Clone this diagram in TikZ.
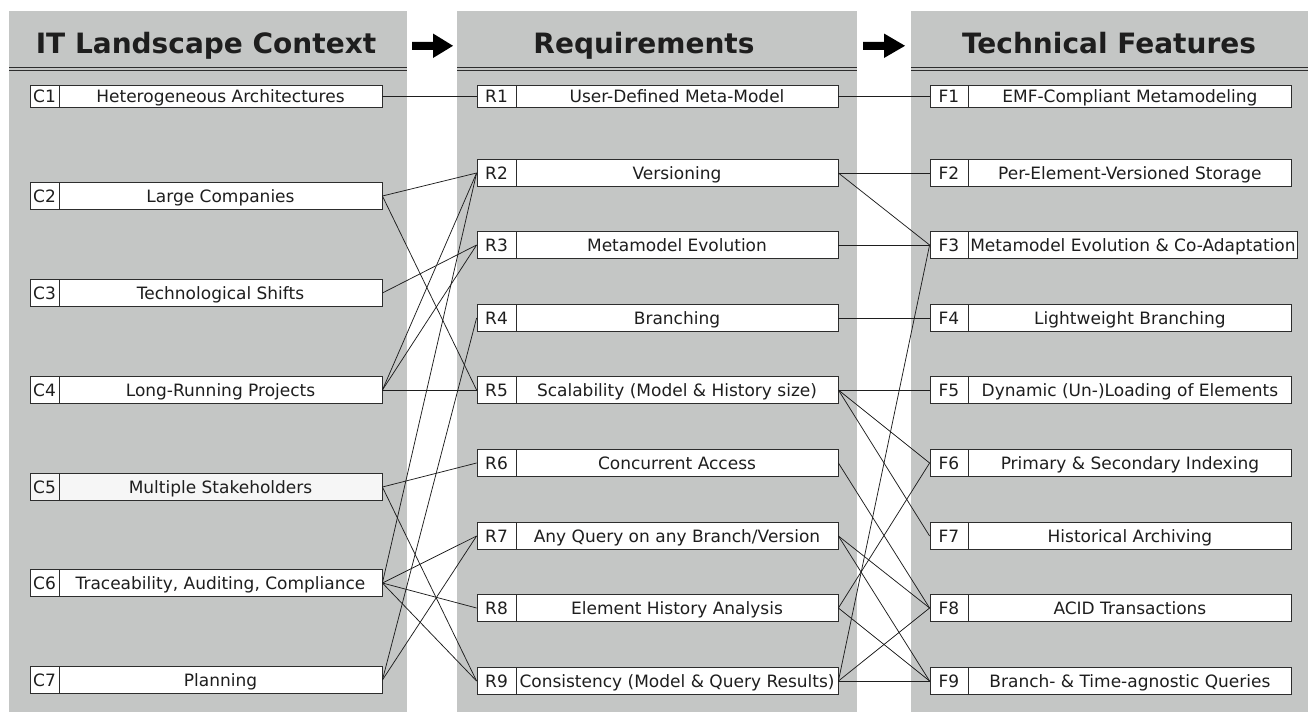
\documentclass[tikz,border=0pt]{standalone}
\usepackage{fontspec}
\setmainfont{DejaVu Sans}
\definecolor{panelgray}{RGB}{196,198,197}
\definecolor{boxline}{RGB}{45,45,45}
\definecolor{txt}{RGB}{30,30,30}
\definecolor{conncol}{RGB}{30,30,30}
\definecolor{offwhite}{RGB}{246,246,246}
\newcommand\lblfont{\fontsize{17}{17}\selectfont}
\newcommand\hdrfont{\fontsize{28}{28}\selectfont\bfseries}
\tikzset{
  cell/.style={draw=boxline,fill=white,line width=0.8pt,inner sep=0pt,font=\lblfont,text=txt,text height=12.4pt,text depth=0pt},
  conn/.style={draw=conncol,line width=0.75pt},
  hdr/.style={font=\hdrfont,text=txt,inner sep=0pt,text height=20.4pt,text depth=0pt},
  hdrline/.style={draw=boxline,line width=0.8pt},
  bigarrow/.style={fill=black}
}
% Cbox[extra style]{name}{y}{height}{id}{text}
\newcommand\Cbox[6][]{%
  \node[cell,minimum width=29pt,minimum height=#4pt,#1] (#2id) at (44.5,#3) {#5};
  \node[cell,minimum width=323pt,minimum height=#4pt,#1] (#2) at (220.5,#3) {#6};}
\newcommand\Rbox[5]{%
  \node[cell,minimum width=39pt,minimum height=#3pt] (#1id) at (496.5,#2) {#4};
  \node[cell,minimum width=322pt,minimum height=#3pt] (#1) at (677,#2) {#5};}
\newcommand\Fbox[6][323]{%
  \node[cell,minimum width=38pt,minimum height=#4pt] (#2id) at (949,#3) {#5};
  \node[cell,minimum width=#1pt,minimum height=#4pt,anchor=west] (#2) at (968,#3) {#6};}
\begin{document}
\begin{tikzpicture}[x=1pt,y=-1pt]
\useasboundingbox (0,0) rectangle (1308,712);
% panels
\fill[panelgray] (9,11) rectangle (407,712);
\fill[panelgray] (457,11) rectangle (857,712);
\fill[panelgray] (911,11) rectangle (1308,712);
% header double lines
\foreach \yy in {67,70}{
  \draw[hdrline] (9,\yy) -- (407,\yy);
  \draw[hdrline] (457,\yy) -- (857,\yy);
  \draw[hdrline] (911,\yy) -- (1308,\yy);
}
% headers
\node[hdr] (h1) at (206,43) {IT Landscape Context};
\node[hdr] (h2) at (644,43) {Requirements};
\node[hdr] (h3) at (1109,43) {Technical Features};
% big arrows
\fill[bigarrow] (412,41.8) -- (433,41.8) -- (433,33.5) -- (453,45.8) -- (433,58) -- (433,49.8) -- (412,49.8) -- cycle;
\fill[bigarrow] (863,41.8) -- (884,41.8) -- (884,33.5) -- (905,45.8) -- (884,58) -- (884,49.8) -- (863,49.8) -- cycle;
% C column
\Cbox{c1}{96}{22}{C1}{Heterogeneous Architectures}
\Cbox{c2}{196}{27}{C2}{Large Companies}
\Cbox{c3}{293}{27}{C3}{Technological Shifts}
\Cbox{c4}{390}{27}{C4}{Long-Running Projects}
\Cbox[fill=offwhite]{c5}{487}{27}{C5}{Multiple Stakeholders}
\Cbox{c6}{583}{27}{C6}{Traceability, Auditing, Compliance}
\Cbox{c7}{680}{27}{C7}{Planning}
% R column
\Rbox{r1}{96}{22}{R1}{User-Defined Meta-Model}
\Rbox{r2}{173}{27}{R2}{Versioning}
\Rbox{r3}{245}{27}{R3}{Metamodel Evolution}
\Rbox{r4}{318}{27}{R4}{Branching}
\Rbox{r5}{390}{27}{R5}{Scalability (Model \& History size)}
\Rbox{r6}{463}{27}{R6}{Concurrent Access}
\Rbox{r7}{536}{27}{R7}{Any Query on any Branch/Version}
\Rbox{r8}{608}{27}{R8}{Element History Analysis}
\Rbox{r9}{681}{27}{R9}{Consistency (Model \& Query Results)}
% F column
\Fbox{f1}{96}{22}{F1}{EMF-Compliant Metamodeling}
\Fbox{f2}{173}{27}{F2}{Per-Element-Versioned Storage}
\Fbox[329]{f3}{245}{27}{F3}{Metamodel Evolution \& Co-Adaptation}
\Fbox{f4}{318}{27}{F4}{Lightweight Branching}
\Fbox{f5}{390}{27}{F5}{Dynamic (Un-)Loading of Elements}
\Fbox{f6}{463}{27}{F6}{Primary \& Secondary Indexing}
\Fbox{f7}{536}{27}{F7}{Historical Archiving}
\Fbox{f8}{608}{27}{F8}{ACID Transactions}
\Fbox{f9}{681}{27}{F9}{Branch- \& Time-agnostic Queries}
% C -> R connectors
\foreach \a/\b in {c1/r1,c2/r2,c2/r5,c3/r3,c4/r2,c4/r3,c4/r5,c5/r6,c5/r9,c6/r2,c6/r7,c6/r8,c6/r9,c7/r4,c7/r7}
  \draw[conn] (\a.east) -- (\b id.west);
% R -> F connectors
\foreach \a/\b in {r1/f1,r2/f2,r2/f3,r3/f3,r4/f4,r5/f5,r5/f6,r5/f7,r6/f8,r7/f8,r7/f9,r8/f6,r8/f9,r9/f3,r9/f8,r9/f9}
  \draw[conn] (\a.east) -- (\b id.west);
\end{tikzpicture}
\end{document}
